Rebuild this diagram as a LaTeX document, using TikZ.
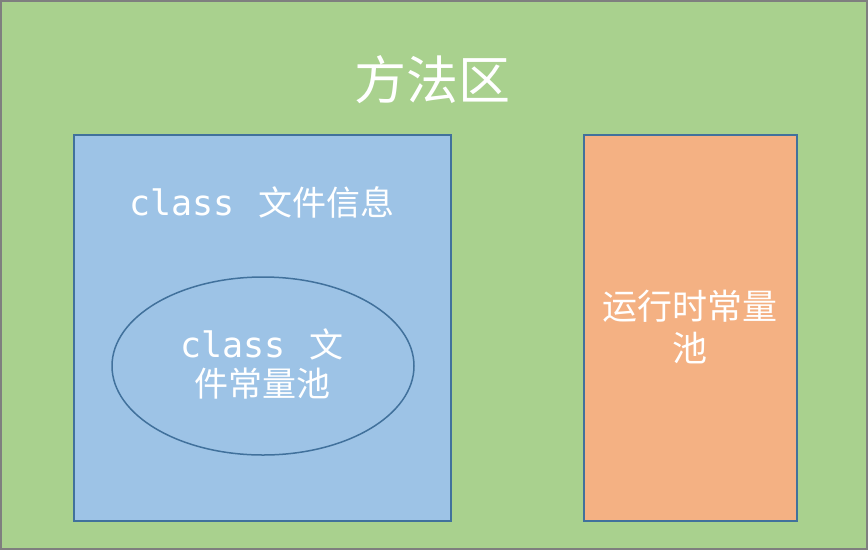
\documentclass[tikz,border=0pt]{standalone}
\usepackage{fontspec}
\newfontfamily\cjk{Noto Sans CJK SC}
\newfontfamily\mono{DejaVu Sans Mono}
\usetikzlibrary{shapes.geometric}
\definecolor{areagreen}{HTML}{A9D18E}
\definecolor{areagray}{HTML}{7F7F7F}
\definecolor{infoblue}{HTML}{9DC3E6}
\definecolor{edgeblue}{HTML}{41719C}
\definecolor{poolorange}{HTML}{F4B183}
\newcommand\classword{{\mono\fontsize{35}{40}\selectfont class}\hspace{24pt}}

\begin{document}
\begin{tikzpicture}[x=1pt,y=-1pt,
	box/.style={draw=edgeblue, line width=1.5pt, inner sep=0pt, outer sep=0pt},
	whitetext/.style={text=white, align=center, font=\cjk\fontsize{34}{40}\selectfont}]
	\useasboundingbox (0,0) rectangle (868,550);
	% method area
	\node[draw=areagray, fill=areagreen, line width=2pt, inner sep=0pt,
		minimum width=866pt, minimum height=548pt] (area) at (434,275) {};
	\node[whitetext, font=\cjk\fontsize{52}{60}\selectfont] (title) at (432,80) {方法区};
	% class file
	\node[box, fill=infoblue, minimum width=377pt, minimum height=386pt] (info) at (262.5,328) {};
	\node[whitetext] (infotext) at (262,202) {\classword 文件信息};
	\node[box, ellipse, fill=infoblue, minimum width=302pt, minimum height=178pt] (pool) at (263,366) {};
	\node[whitetext, font=\cjk\fontsize{34}{39}\selectfont] (pooltext) at (262,364) {\classword 文\\件常量池};
	% runtime pool
	\node[box, fill=poolorange, minimum width=213pt, minimum height=386pt] (runtime) at (690.5,328) {};
	\node[whitetext, font=\cjk\fontsize{35}{42}\selectfont] (runtimetext) at (690,327) {运行时常量\\池};
\end{tikzpicture}
\end{document}
